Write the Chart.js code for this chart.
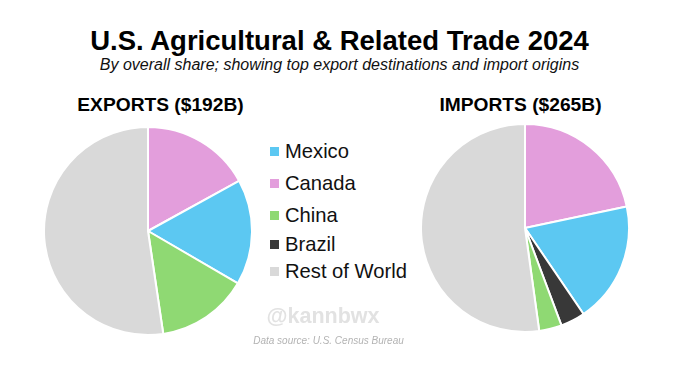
<!DOCTYPE html>
<html>
<head>
<meta charset="utf-8">
<script src="https://cdn.jsdelivr.net/npm/chart.js@4.4.1/dist/chart.umd.min.js"></script>
<style>
  body { margin: 0; background: #fff; font-family: "Liberation Sans", Arial, sans-serif; }
  #page { position: relative; width: 679px; height: 378px; overflow: hidden; }
  .abs { position: absolute; white-space: nowrap; }
  #title { left: 0; width: 679px; top: 25px; text-align: center; font-weight: bold; font-size: 27.5px; color: #000; }
  #subtitle { left: 0; width: 679px; top: 56px; text-align: center; font-style: italic; font-size: 16px; color: #111; }
  .head { top: 94px; width: 260px; text-align: center; font-weight: bold; font-size: 19.2px; color: #000; }
  #legend { left: 270px; top: 0; }
  .item { position: absolute; left: 0; height: 24px; margin-top: -12px; display: flex; align-items: center; font-size: 20.2px; color: #111; }
  .item span.box { width: 9px; height: 9px; margin-right: 6px; display: inline-block; }
  #mark { left: 0; width: 646px; top: 304px; text-align: center; font-weight: bold; font-size: 21.5px; color: #e2e2e2; }
  #source { left: 0; width: 657px; top: 335px; text-align: center; font-style: italic; font-size: 10px; color: #b3b3b3; }
  canvas { position: absolute; }
</style>
</head>
<body>
<div id="page">
  <div id="title" class="abs">U.S. Agricultural &amp; Related Trade 2024</div>
  <div id="subtitle" class="abs">By overall share; showing top export destinations and import origins</div>
  <div class="abs head" style="left:30.5px">EXPORTS ($192B)</div>
  <div class="abs head" style="left:390.5px">IMPORTS ($265B)</div>
  <canvas id="exp" width="210" height="210" style="left:43px;top:126px"></canvas>
  <canvas id="imp" width="210" height="210" style="left:420px;top:123px"></canvas>
  <div id="legend" class="abs"></div>
  <div id="mark" class="abs">@kannbwx</div>
  <div id="source" class="abs">Data source: U.S. Census Bureau</div>
</div>
<script>
// values in $B (clockwise from 12 o'clock)
const exportLabels = ["Canada", "Mexico", "China", "Rest of World"];
const exportValues = [32.6, 31.5, 27.4, 100.5];

const importLabels = ["Canada", "Mexico", "Brazil", "China", "Rest of World"];
const importValues = [57.5, 49.8, 10.1, 9.3, 138.3];

const legendLabels = ["Mexico", "Canada", "China", "Brazil", "Rest of World"];

const colors = {
  "Mexico": "#5cc8f2",
  "Canada": "#e39edc",
  "China": "#8fd973",
  "Brazil": "#383838",
  "Rest of World": "#d9d9d9"
};

// legend row centres (px), the source spacing is a bit uneven
const legendRowY = [151.5, 183, 215.5, 244.5, 271.5];

function pie(id, labels, values) {
  return new Chart(document.getElementById(id), {
    type: "pie",
    data: {
      labels: labels,
      datasets: [{
        data: values,
        backgroundColor: labels.map(l => colors[l]),
        borderColor: "#fff",
        borderWidth: 2
      }]
    },
    options: {
      responsive: false,
      animation: false,
      events: [],
      layout: { padding: 0 },
      plugins: { legend: { display: false }, tooltip: { enabled: false } }
    }
  });
}

pie("exp", exportLabels, exportValues);
pie("imp", importLabels, importValues);

// legend shared by both pies
const lg = document.getElementById("legend");
legendLabels.forEach((l, i) => {
  const d = document.createElement("div");
  d.className = "item";
  d.style.top = legendRowY[i] + "px";
  d.innerHTML = '<span class="box" style="background:' + colors[l] + '"></span>' + l;
  lg.appendChild(d);
});
</script>
</body>
</html>
